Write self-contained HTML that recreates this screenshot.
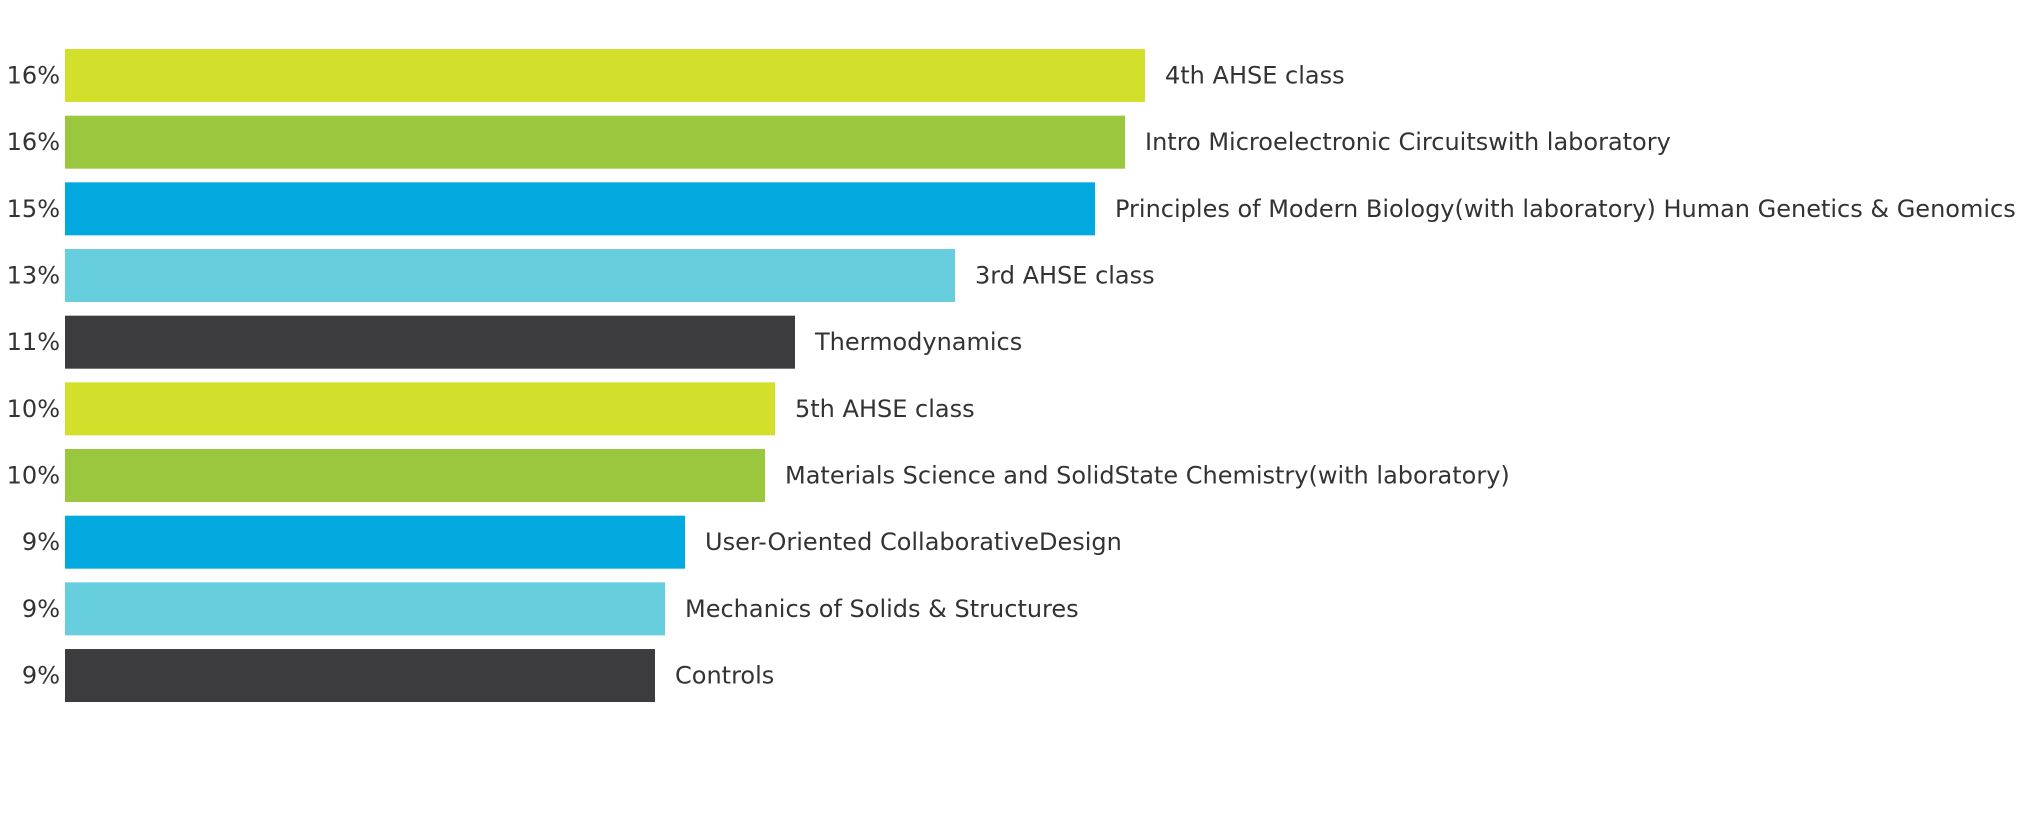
<!DOCTYPE html>
<html><head><meta charset="utf-8"><style>
html,body{margin:0;padding:0;background:#fff;width:2024px;height:819px;overflow:hidden}
svg text{font-family:"DejaVu Sans","Liberation Sans",sans-serif;font-size:24px;fill:#333}
</style></head><body>
<svg id="chart" width="2024" height="819" xmlns="http://www.w3.org/2000/svg"></svg>
<script>
const categories = ["4th AHSE class","Intro Microelectronic Circuitswith laboratory","Principles of Modern Biology(with laboratory) Human Genetics & Genomics","3rd AHSE class","Thermodynamics","5th AHSE class","Materials Science and SolidState Chemistry(with laboratory)","User-Oriented CollaborativeDesign","Mechanics of Solids & Structures","Controls"];
const values = [16.2,15.9,15.45,13.35,10.95,10.65,10.5,9.3,9.0,8.85];
const valueLabels = ["16%","16%","15%","13%","11%","10%","10%","9%","9%","9%"];
const colors = ["#d2df2b","#9ac73e","#02a9df","#67cedd","#3c3c3e"];

const svg = document.getElementById('chart');
const NS = 'http://www.w3.org/2000/svg';
const x0 = 65, pxPerUnit = 1080/16.2;
const xScale = v => x0 + v*pxPerUnit;
const top0 = 49, step = 66.67, barH = 53;
const yScale = i => top0 + i*step;

categories.forEach((c,i)=>{
  const y = yScale(i);
  const r = document.createElementNS(NS,'rect');
  r.setAttribute('x',x0); r.setAttribute('y',y);
  r.setAttribute('width',xScale(values[i])-x0); r.setAttribute('height',barH);
  r.setAttribute('fill',colors[i%colors.length]);
  
  
  svg.appendChild(r);
  const v = document.createElementNS(NS,'text');
  v.setAttribute('x',60); v.setAttribute('y',y+barH/2+8);
  v.setAttribute('text-anchor','end');
  v.textContent = valueLabels[i];
  
  
  svg.appendChild(v);
  const t = document.createElementNS(NS,'text');
  t.setAttribute('x',xScale(values[i])+20); t.setAttribute('y',y+barH/2+8);
  t.textContent = c;
  
  
  svg.appendChild(t);
});
</script>
</body></html>
